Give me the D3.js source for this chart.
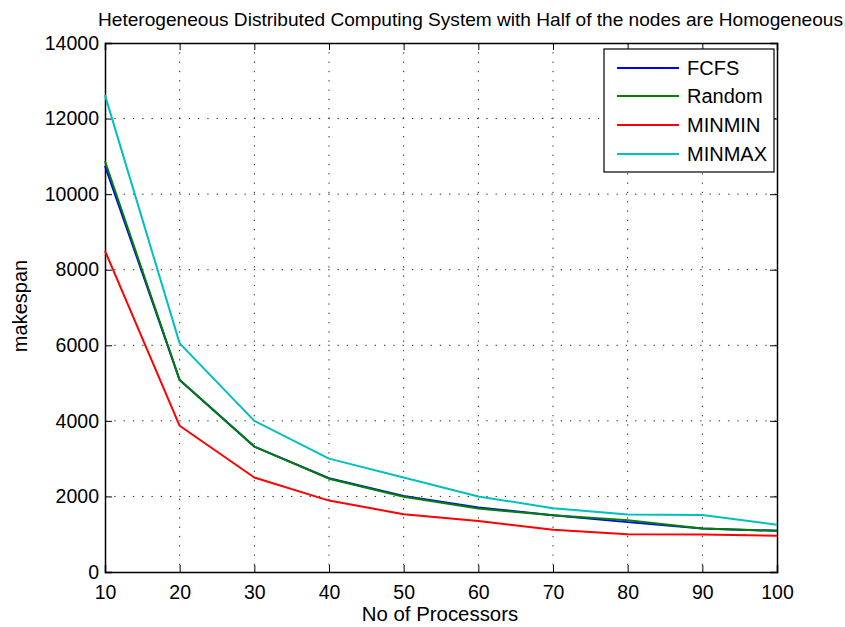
<!DOCTYPE html>
<html><head><meta charset="utf-8">
<script src="https://cdn.jsdelivr.net/npm/d3@7"></script>
<style>body{margin:0;background:#fff}svg{display:block}text{font-family:"Liberation Sans",Arial,sans-serif;fill:#000}</style>
</head><body><svg id="c" width="845" height="627"></svg>
<script>
const processors = [10,20,30,40,50,60,70,80,90,100];
const fcfs   = [10750,5080,3320,2480,2010,1710,1500,1320,1150,1090];
const random = [10870,5080,3320,2470,1990,1680,1500,1370,1150,1090];
const minmin = [8500,3870,2500,1890,1530,1350,1120,1000,990,960];
const minmax = [12620,6050,4000,3000,2500,2000,1690,1520,1510,1250];
const seriesNames = ["FCFS","Random","MINMIN","MINMAX"];
const seriesColors = ["#0000ff","#008000","#ff0000","#00bfbf"];
const xTicks = [10,20,30,40,50,60,70,80,90,100];
const yTicks = [0,2000,4000,6000,8000,10000,12000,14000];
const titleText = "Heterogeneous Distributed Computing System with Half of the nodes are Homogeneous";

const seriesData = [fcfs, random, minmin, minmax];
const svg = d3.select("#c");
const L=105, R=777, T=43, B=572;
const x = d3.scaleLinear().domain([10,100]).range([L,R]);
const y = d3.scaleLinear().domain([0,14000]).range([B,T]);

// grid
const g = svg.append("g");
g.selectAll(".gx").data(xTicks.slice(1,-1)).join("line")
  .attr("x1",d=>x(d)).attr("x2",d=>x(d)).attr("y1",T).attr("y2",B)
  .attr("stroke","#222").attr("stroke-width",1).attr("stroke-dasharray","1.3,8");
g.selectAll(".gy").data(yTicks.slice(1,-1)).join("line")
  .attr("y1",d=>y(d)).attr("y2",d=>y(d)).attr("x1",L).attr("x2",R)
  .attr("stroke","#222").attr("stroke-width",1).attr("stroke-dasharray","1.3,8");

// axes (ticks inward)
const ax = d3.axisBottom(x).tickValues(xTicks).tickSize(-7).tickPadding(13).tickFormat(d3.format("d"));
const axTop = d3.axisTop(x).tickValues(xTicks).tickSize(-7).tickFormat("");
const ay = d3.axisLeft(y).tickValues(yTicks).tickSize(-7).tickPadding(6).tickFormat(d3.format("d"));
const ayR = d3.axisRight(y).tickValues(yTicks).tickSize(-7).tickFormat("");
function style(sel){ sel.select(".domain").attr("stroke","#000").attr("stroke-width",1.5);
  sel.selectAll(".tick line").attr("stroke","#000").attr("stroke-width",1);
  sel.selectAll("text").attr("font-size",19.5).attr("font-family",'"Liberation Sans",Arial,sans-serif').attr("fill","#000");}
svg.append("g").attr("transform",`translate(0,${B})`).call(ax).call(style);
svg.append("g").attr("transform",`translate(0,${T})`).call(axTop).call(style);
svg.append("g").attr("transform",`translate(${L},0)`).call(ay).call(style);
svg.append("g").attr("transform",`translate(${R},0)`).call(ayR).call(style);

// lines
const line = d3.line().x((d,i)=>x(processors[i])).y(d=>y(d));
seriesData.forEach((s,k)=>{
  svg.append("path").datum(s).attr("d",line).attr("fill","none")
    .attr("stroke",seriesColors[k]).attr("stroke-width",2).attr("stroke-linejoin","round");
});

// title & labels
svg.append("text").attr("x",98).attr("y",26).attr("font-size",18.5)
  .attr("textLength",745).attr("lengthAdjust","spacingAndGlyphs").text(titleText);
svg.append("text").attr("x",440).attr("y",621).attr("text-anchor","middle").attr("font-size",20.4).text("No of Processors");
svg.append("text").attr("transform","translate(27,306) rotate(-90)").attr("text-anchor","middle").attr("font-size",20).text("makespan");

// legend
const lg = svg.append("g");
lg.append("rect").attr("x",604).attr("y",49).attr("width",170).attr("height",123)
  .attr("fill","#fff").attr("stroke","#000").attr("stroke-width",1.2);
const rowY = [68,96,125,154];
seriesNames.forEach((n,k)=>{
  lg.append("line").attr("x1",617).attr("x2",679).attr("y1",rowY[k]).attr("y2",rowY[k])
    .attr("stroke",seriesColors[k]).attr("stroke-width",2);
  lg.append("text").attr("x",687).attr("y",rowY[k]+7).attr("font-size",20).text(n);
});
</script></body></html>
